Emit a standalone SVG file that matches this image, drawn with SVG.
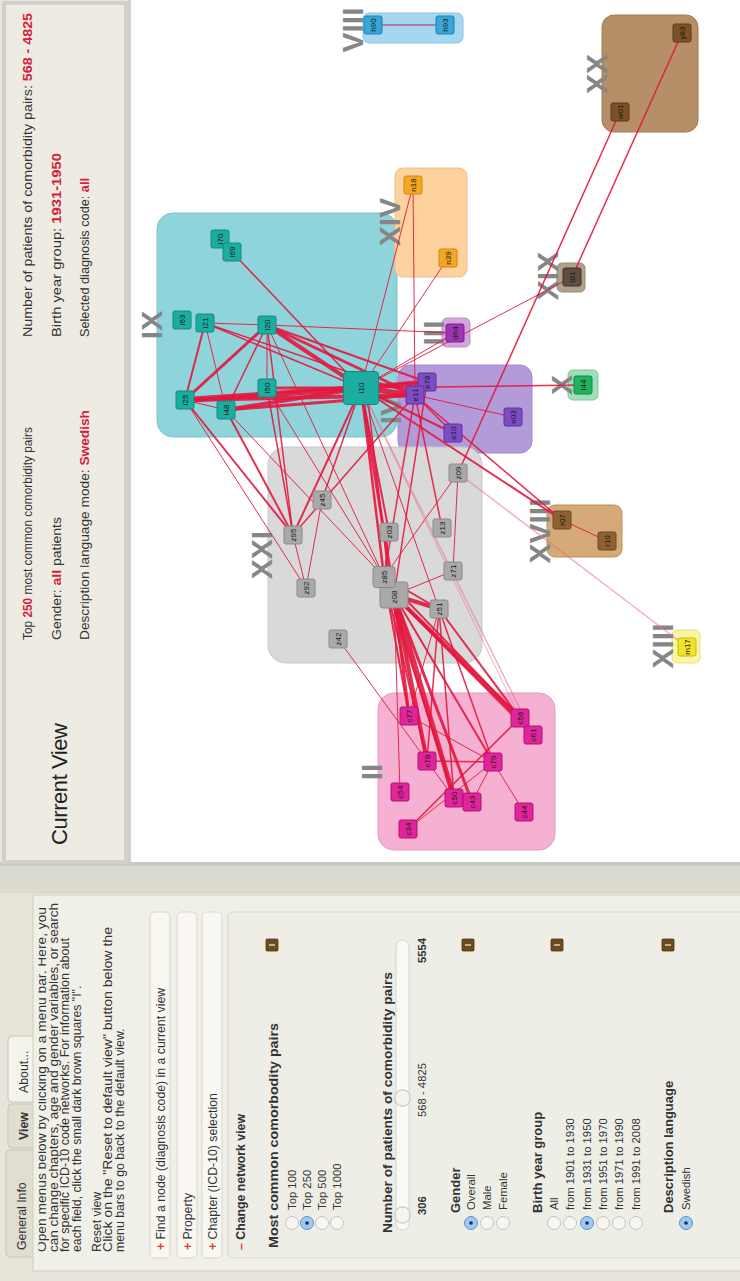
<svg xmlns="http://www.w3.org/2000/svg" width="740" height="1281" viewBox="0 0 740 1281">
<defs>
<style>
text{font-family:"Liberation Sans",Arial,sans-serif}
.hd{font-size:12.5px;fill:#333}
.r{fill:#d4213d;font-weight:bold}
.pt{font-size:12.3px;fill:#333}
.rl{font-size:11.3px;fill:#333}
.hb{font-size:13px;fill:#333;font-weight:bold}
.b{font-weight:bold}
.pl{fill:#e0402a;font-weight:bold}
.bar{fill:#f8f7f1;stroke:#d9d7cb;stroke-width:1}
.rb{fill:#f6f6f3;stroke:#c4c4bc;stroke-width:1}
.rs{fill:#9ccaf2;stroke:#5f92c4;stroke-width:1}
.dot{fill:#1c2b4a}
.ic{fill:#6e4b1f;stroke:#4e3312;stroke-width:.8}
.icl{fill:#e9dcc0}
.rn{font-size:30px;font-weight:bold;fill:#868686;text-anchor:middle;dominant-baseline:central}
.nl{font-size:8px;fill:#1a1a1a;text-anchor:middle;dominant-baseline:central}
.ed line{stroke:#e3173e;stroke-linecap:round;stroke-opacity:.9}
.ed line.f{stroke:#e7708c;stroke-opacity:.55}
.nd rect{stroke-width:1}
.c9{fill:#1aada0;stroke:#0f8c80}
.c14{fill:#f5a623;stroke:#d08810}
.c8{fill:#3aa6d8;stroke:#2080b0}
.c20{fill:#7b5326;stroke:#5a3a18}
.c19{fill:#5e4e44;stroke:#403028}
.c3{fill:#9c36b4;stroke:#7a2090}
.c4{fill:#7e4cc4;stroke:#5e30a0}
.c10{fill:#1fb35e;stroke:#108a44}
.c18{fill:#8c6232;stroke:#6a4820}
.c13{fill:#f2e22a;stroke:#c8b810}
.c21{fill:#a9a9a9;stroke:#8a8a8a}
.c2{fill:#e0259b;stroke:#b01078}
</style>
<clipPath id="cc"><rect x="10" y="38.5" width="376" height="700"/></clipPath>
</defs>

<rect x="0" y="0" width="740" height="1281" fill="#e8e6db"/>

<!-- network canvas -->
<rect x="128" y="0" width="612" height="862" fill="#ffffff"/>
<line x1="129.5" y1="0" x2="129.5" y2="862" stroke="#cfcfcf" stroke-width="3"/>
<rect x="0" y="862" width="740" height="4" fill="#c9c9c6"/>
<rect x="0" y="866" width="740" height="27" fill="#dcdbd0"/>
<line x1="0" y1="893" x2="740" y2="893" stroke="#cfcdc0"/>

<g transform="translate(0,1281) rotate(-90)">
  <!-- header -->
  <g id="header">
    <rect x="419" y="4" width="859" height="122" fill="#edebe2" stroke="#d0d0cd" stroke-width="4"/>
    <text x="436" y="67" font-size="22" fill="#222" textLength="122">Current View</text>
    <text class="hd" x="641" y="32" textLength="213" lengthAdjust="spacingAndGlyphs">Top <tspan class="r">250</tspan> most common comorbidity pairs</text>
    <text class="hd" x="641" y="61" textLength="123" lengthAdjust="spacingAndGlyphs">Gender: <tspan class="r">all</tspan> patients</text>
    <text class="hd" x="641" y="89" textLength="230" lengthAdjust="spacingAndGlyphs">Description language mode: <tspan class="r">Swedish</tspan></text>
    <text class="hd" x="944" y="32" textLength="324" lengthAdjust="spacingAndGlyphs">Number of patients of comorbidity pairs: <tspan class="r">568 - 4825</tspan></text>
    <text class="hd" x="944" y="61" textLength="184" lengthAdjust="spacingAndGlyphs">Birth year group: <tspan class="r">1931-1950</tspan></text>
    <text class="hd" x="944" y="89" textLength="159" lengthAdjust="spacingAndGlyphs">Selected diagnosis code: <tspan class="r">all</tspan></text>
  </g>

  <!-- side panel -->
  <g id="panel">
    <rect x="0" y="0" width="388" height="740" fill="#e7e5da"/>
    <rect x="24" y="6" width="107" height="30" rx="4" fill="#e0ded1" stroke="#c8c6b9"/>
    <rect x="133" y="8" width="44" height="28" rx="4" fill="#e0ded1" stroke="#c8c6b9"/>
    <rect x="179" y="8" width="66" height="30" rx="4" fill="#f4f3ec" stroke="#c8c6b9"/>
    <text class="pt" x="31" y="26" font-size="13.5">General Info</text>
    <text class="pt b" x="141" y="28" font-size="12.5">View</text>
    <text class="pt" x="188" y="28" font-size="12.5">About...</text>
    <rect x="10" y="33" width="376" height="720" fill="#f1f0e8" stroke="#cfcdc1"/>
    <g clip-path="url(#cc)">
      <text class="pt" x="29" y="46" textLength="345" lengthAdjust="spacingAndGlyphs">Open menus below by clicking on a menu bar. Here, you</text>
    </g>
    <text class="pt" x="29" y="57.5" textLength="349" lengthAdjust="spacingAndGlyphs">can change chapters, age and gender variables, or search</text>
    <text class="pt" x="29" y="69" textLength="314" lengthAdjust="spacingAndGlyphs">for specific ICD-10 code networks. For information about</text>
    <text class="pt" x="29" y="80.5">each field, click the small dark brown squares "I".</text>
    <text class="pt" x="29" y="100.5">Reset view</text>
    <text class="pt" x="29" y="112" textLength="325" lengthAdjust="spacingAndGlyphs">Click on the "Reset to default view" button below the</text>
    <text class="pt" x="29" y="123.5">menu bars to go back to the default view.</text>

    <rect class="bar" x="23" y="150" width="346" height="20" rx="5"/>
    <text class="pt" x="31" y="164.5"><tspan class="pl">+</tspan> Find a node (diagnosis code) in a current view</text>
    <rect class="bar" x="23" y="177" width="346" height="20" rx="5"/>
    <text class="pt" x="31" y="191.5"><tspan class="pl">+</tspan> Property</text>
    <rect class="bar" x="23" y="202" width="346" height="20" rx="5"/>
    <text class="pt" x="31" y="216.5"><tspan class="pl">+</tspan> Chapter (ICD-10) selection</text>
    <rect x="23" y="228" width="346" height="520" rx="5" fill="#efeee6" stroke="#d9d7cb"/>
    <text class="pt b" x="31" y="245"><tspan class="pl">–</tspan> Change network view</text>

    <text class="hb" x="33" y="278" textLength="225" lengthAdjust="spacingAndGlyphs">Most common comorbodity pairs</text>
    <rect class="ic" x="330" y="266" width="12" height="12" rx="1"/><rect class="icl" x="335.3" y="269" width="1.4" height="6"/>
    <circle class="rb" cx="58" cy="292" r="6.5"/><text class="rl" x="71" y="296">Top 100</text>
    <circle class="rs" cx="58" cy="307" r="6.5"/><circle class="dot" cx="58" cy="307" r="1.8"/><text class="rl" x="71" y="311">Top 250</text>
    <circle class="rb" cx="58" cy="322" r="6.5"/><text class="rl" x="71" y="326">Top 500</text>
    <circle class="rb" cx="58" cy="337" r="6.5"/><text class="rl" x="71" y="341">Top 1000</text>

    <text class="hb" x="48" y="392" textLength="261" lengthAdjust="spacingAndGlyphs">Number of patients of comorbidity pairs</text>
    <rect x="51" y="396" width="290" height="13" rx="6.5" fill="#f9f9f5" stroke="#d6d6ce"/>
    <rect x="58" y="395" width="16" height="15" rx="7" fill="#f4f4f0" stroke="#bdbdb5"/>
    <rect x="175" y="395" width="16" height="15" rx="7" fill="#f4f4f0" stroke="#bdbdb5"/>
    <text class="rl b" x="66" y="426">306</text>
    <text class="rl" x="191" y="426" text-anchor="middle">568 - 4825</text>
    <text class="rl b" x="318" y="426">5554</text>

    <text class="hb" x="68" y="460">Gender</text>
    <rect class="ic" x="330" y="462" width="12" height="12" rx="1"/><rect class="icl" x="335.3" y="465" width="1.4" height="6"/>
    <circle class="rs" cx="58" cy="471" r="6.5"/><circle class="dot" cx="58" cy="471" r="1.8"/><text class="rl" x="71" y="475">Overall</text>
    <circle class="rb" cx="58" cy="487" r="6.5"/><text class="rl" x="71" y="491">Male</text>
    <circle class="rb" cx="58" cy="503" r="6.5"/><text class="rl" x="71" y="507">Female</text>

    <text class="hb" x="68" y="542">Birth year group</text>
    <rect class="ic" x="330" y="551" width="12" height="12" rx="1"/><rect class="icl" x="335.3" y="554" width="1.4" height="6"/>
    <circle class="rb" cx="58" cy="554" r="6.5"/><text class="rl" x="71" y="558">All</text>
    <circle class="rb" cx="58" cy="570" r="6.5"/><text class="rl" x="71" y="574">from 1901 to 1930</text>
    <circle class="rs" cx="58" cy="587" r="6.5"/><circle class="dot" cx="58" cy="587" r="1.8"/><text class="rl" x="71" y="591">from 1931 to 1950</text>
    <circle class="rb" cx="58" cy="603" r="6.5"/><text class="rl" x="71" y="607">from 1951 to 1970</text>
    <circle class="rb" cx="58" cy="619" r="6.5"/><text class="rl" x="71" y="623">from 1971 to 1990</text>
    <circle class="rb" cx="58" cy="636" r="6.5"/><text class="rl" x="71" y="640">from 1991 to 2008</text>

    <text class="hb" x="68" y="673">Description language</text>
    <rect class="ic" x="330" y="662" width="12" height="12" rx="1"/><rect class="icl" x="335.3" y="665" width="1.4" height="6"/>
    <circle class="rs" cx="58" cy="686" r="6.5"/><circle class="dot" cx="58" cy="686" r="1.8"/><text class="rl" x="71" y="690">Swedish</text>
  </g>
</g>

<!-- cluster boxes -->
<g id="clusters">
  <g id="ch-IX"><rect x="157" y="213" width="240" height="224" rx="16" fill="#8fd4da" stroke="#7cc3c9"/><text class="rn" x="151" y="325" transform="rotate(-90 151 325)">IX</text></g>
  <g id="ch-XIV"><rect x="395" y="168" width="72" height="109" rx="8" fill="#fdd29e" stroke="#f0c080"/><text class="rn" x="389" y="222" transform="rotate(-90 389 222)">XIV</text></g>
  <g id="ch-VIII"><rect x="363" y="13" width="100" height="30" rx="6" fill="#a6d7f0" stroke="#8cc4e0"/><text class="rn" x="352" y="30" transform="rotate(-90 352 30)">VIII</text></g>
  <g id="ch-XX"><rect x="602" y="15" width="96" height="117" rx="12" fill="#b68e68" stroke="#a07a58"/><text class="rn" x="596" y="74" transform="rotate(-90 596 74)">XX</text></g>
  <g id="ch-XIX"><rect x="557" y="263" width="28" height="29" rx="5" fill="#b0a08e" stroke="#9a8a7a"/><text class="rn" x="547" y="276" transform="rotate(-90 547 276)">XIX</text></g>
  <g id="ch-III"><rect x="442" y="318" width="28" height="29" rx="5" fill="#d4a4dc" stroke="#c090c8"/><text class="rn" x="433" y="333" transform="rotate(-90 433 333)">III</text></g>
  <g id="ch-IV"><rect x="398" y="365" width="134" height="88" rx="12" fill="#b39ad8" stroke="#a088c8"/><text class="rn" x="390" y="410" transform="rotate(-90 390 410)">IV</text></g>
  <g id="ch-X"><rect x="568" y="370" width="30" height="30" rx="5" fill="#9fdfb8" stroke="#80c89c"/><text class="rn" x="561" y="385" transform="rotate(-90 561 385)">X</text></g>
  <g id="ch-XVIII"><rect x="547" y="505" width="75" height="52" rx="8" fill="#d5a978" stroke="#c09060"/><text class="rn" x="539" y="531" transform="rotate(-90 539 531)">XVIII</text></g>
  <g id="ch-XIII"><rect x="672" y="630" width="28" height="33" rx="5" fill="#faf5a2" stroke="#e8e080"/><text class="rn" x="662" y="646" transform="rotate(-90 662 646)">XIII</text></g>
  <g id="ch-XXI"><rect x="268" y="447" width="214" height="216" rx="18" fill="#d9d9d9" stroke="#c8c8c8"/><text class="rn" x="261" y="555" transform="rotate(-90 261 555)">XXI</text></g>
  <g id="ch-II"><rect x="378" y="693" width="177" height="157" rx="16" fill="#f5b0d2" stroke="#e898c0"/><text class="rn" x="371" y="772" transform="rotate(-90 371 772)">II</text></g>
</g>

<!-- connectors -->
<g id="edges" class="ed">
  <line x1="232" y1="252" x2="361" y2="388" stroke-width="1.5"/>
  <line x1="205" y1="323" x2="267" y2="325" stroke-width="1"/>
  <line x1="205" y1="323" x2="361" y2="388" stroke-width="1.5"/>
  <line x1="205" y1="323" x2="415" y2="395" stroke-width="1.5"/>
  <line x1="205" y1="323" x2="185" y2="400" stroke-width="2"/>
  <line x1="205" y1="323" x2="226" y2="410" stroke-width="1"/>
  <line x1="267" y1="325" x2="361" y2="388" stroke-width="4"/>
  <line x1="267" y1="325" x2="415" y2="395" stroke-width="3"/>
  <line x1="267" y1="325" x2="427" y2="382" stroke-width="2"/>
  <line x1="267" y1="325" x2="455" y2="333" stroke-width="1"/>
  <line x1="267" y1="325" x2="185" y2="400" stroke-width="3"/>
  <line x1="267" y1="325" x2="226" y2="410" stroke-width="1.5"/>
  <line x1="267" y1="325" x2="267" y2="388" stroke-width="1"/>
  <line x1="267" y1="325" x2="293" y2="535" stroke-width="1.5"/>
  <line x1="267" y1="325" x2="384" y2="577" stroke-width="1"/>
  <line x1="185" y1="400" x2="361" y2="388" stroke-width="6"/>
  <line x1="185" y1="400" x2="415" y2="395" stroke-width="4"/>
  <line x1="185" y1="400" x2="427" y2="382" stroke-width="2"/>
  <line x1="185" y1="400" x2="226" y2="410" stroke-width="1"/>
  <line x1="185" y1="400" x2="293" y2="535" stroke-width="2"/>
  <line x1="185" y1="400" x2="306" y2="588" stroke-width="1"/>
  <line x1="226" y1="410" x2="361" y2="388" stroke-width="4"/>
  <line x1="226" y1="410" x2="415" y2="395" stroke-width="3"/>
  <line x1="226" y1="410" x2="293" y2="535" stroke-width="2"/>
  <line x1="226" y1="410" x2="384" y2="577" stroke-width="1"/>
  <line x1="267" y1="388" x2="361" y2="388" stroke-width="3"/>
  <line x1="267" y1="388" x2="293" y2="535" stroke-width="1.5"/>
  <line x1="267" y1="388" x2="384" y2="577" stroke-width="1"/>
  <line x1="361" y1="388" x2="427" y2="382" stroke-width="5"/>
  <line x1="361" y1="388" x2="415" y2="395" stroke-width="5"/>
  <line x1="361" y1="388" x2="293" y2="535" stroke-width="2"/>
  <line x1="361" y1="388" x2="322" y2="500" stroke-width="1.5"/>
  <line x1="361" y1="388" x2="389" y2="532" stroke-width="2"/>
  <line x1="361" y1="388" x2="384" y2="577" stroke-width="2.5"/>
  <line x1="361" y1="388" x2="394" y2="595" stroke-width="3"/>
  <line x1="367" y1="392" x2="390" y2="590" stroke-width="1.5"/>
  <line x1="427" y1="382" x2="394" y2="595" stroke-width="1.5"/>
  <line x1="415" y1="395" x2="384" y2="577" stroke-width="1.5"/>
  <line x1="361" y1="388" x2="439" y2="609" stroke-width="1"/>
  <line x1="361" y1="388" x2="413" y2="185" stroke-width="1"/>
  <line x1="413" y1="185" x2="415" y2="395" stroke-width="1"/>
  <line x1="448" y1="258" x2="361" y2="388" stroke-width="1"/>
  <line x1="455" y1="333" x2="361" y2="388" stroke-width="1"/>
  <line x1="572" y1="277" x2="361" y2="388" stroke-width="1"/>
  <line x1="682" y1="33" x2="572" y2="277" stroke-width="1.5"/>
  <line x1="620" y1="112" x2="458" y2="473" stroke-width="1.5"/>
  <line x1="361" y1="388" x2="583" y2="385" stroke-width="1.5"/>
  <line x1="415" y1="395" x2="513" y2="417" stroke-width="1"/>
  <line x1="415" y1="395" x2="453" y2="433" stroke-width="1.5"/>
  <line x1="361" y1="388" x2="453" y2="433" stroke-width="2"/>
  <line x1="415" y1="395" x2="442" y2="528" stroke-width="1.5"/>
  <line x1="415" y1="395" x2="293" y2="535" stroke-width="1.5"/>
  <line x1="361" y1="388" x2="562" y2="520" stroke-width="2"/>
  <line x1="415" y1="395" x2="562" y2="520" stroke-width="1.5"/>
  <line x1="562" y1="520" x2="607" y2="541" stroke-width="1"/>
  <line class="f" x1="458" y1="473" x2="687" y2="647" stroke-width="1.5"/>
  <line x1="458" y1="473" x2="453" y2="571" stroke-width="1"/>
  <line x1="458" y1="473" x2="384" y2="577" stroke-width="1"/>
  <line x1="453" y1="571" x2="394" y2="595" stroke-width="1"/>
  <line x1="322" y1="500" x2="306" y2="588" stroke-width="1"/>
  <line x1="293" y1="535" x2="306" y2="588" stroke-width="1"/>
  <line x1="338" y1="639" x2="427" y2="761" stroke-width="1"/>
  <line class="f" x1="361" y1="388" x2="533" y2="735" stroke-width="1.5"/>
  <line class="f" x1="361" y1="388" x2="520" y2="718" stroke-width="1"/>
  <line x1="389" y1="532" x2="384" y2="577" stroke-width="1"/>
  <line x1="394" y1="595" x2="439" y2="609" stroke-width="4"/>
  <line x1="384" y1="577" x2="439" y2="609" stroke-width="2"/>
  <line x1="394" y1="595" x2="409" y2="716" stroke-width="3"/>
  <line x1="394" y1="595" x2="427" y2="761" stroke-width="4"/>
  <line x1="394" y1="595" x2="454" y2="798" stroke-width="5"/>
  <line x1="394" y1="595" x2="472" y2="802" stroke-width="3"/>
  <line x1="394" y1="595" x2="493" y2="762" stroke-width="2"/>
  <line x1="394" y1="595" x2="520" y2="718" stroke-width="4"/>
  <line x1="394" y1="595" x2="533" y2="735" stroke-width="3"/>
  <line x1="384" y1="577" x2="454" y2="798" stroke-width="2"/>
  <line x1="384" y1="577" x2="427" y2="761" stroke-width="2"/>
  <line x1="384" y1="577" x2="409" y2="716" stroke-width="2"/>
  <line x1="384" y1="577" x2="520" y2="718" stroke-width="2"/>
  <line x1="439" y1="609" x2="427" y2="761" stroke-width="1.5"/>
  <line x1="439" y1="609" x2="493" y2="762" stroke-width="1.5"/>
  <line x1="439" y1="609" x2="454" y2="798" stroke-width="1.5"/>
  <line x1="439" y1="609" x2="409" y2="716" stroke-width="1"/>
  <line x1="439" y1="609" x2="520" y2="718" stroke-width="2"/>
  <line x1="400" y1="792" x2="394" y2="595" stroke-width="1"/>
  <line x1="427" y1="761" x2="493" y2="762" stroke-width="1.5"/>
  <line x1="408" y1="829" x2="520" y2="718" stroke-width="1.5"/>
  <line x1="493" y1="762" x2="524" y2="812" stroke-width="1"/>
  <line x1="409" y1="716" x2="493" y2="762" stroke-width="1"/>
  <line x1="454" y1="798" x2="427" y2="761" stroke-width="1"/>
  <line x1="472" y1="802" x2="493" y2="762" stroke-width="1"/>
  <line x1="408" y1="829" x2="493" y2="762" stroke-width="1"/>
  <line x1="373" y1="25" x2="445" y2="25" stroke-width="1.5" style="stroke:#b0508a"/>
</g>

<!-- nodes -->
<g id="nodes" class="nd">
  <g id="n-i70"><rect class="c9" x="211" y="230" width="18" height="18" rx="2"/><text class="nl" x="220" y="239" transform="rotate(-90 220 239)">i70</text></g>
  <g id="n-i69"><rect class="c9" x="223" y="243" width="18" height="18" rx="2"/><text class="nl" x="232" y="252" transform="rotate(-90 232 252)">i69</text></g>
  <g id="n-i63"><rect class="c9" x="173" y="311" width="18" height="18" rx="2"/><text class="nl" x="182" y="320" transform="rotate(-90 182 320)">i63</text></g>
  <g id="n-i21"><rect class="c9" x="196" y="314" width="18" height="18" rx="2"/><text class="nl" x="205" y="323" transform="rotate(-90 205 323)">i21</text></g>
  <g id="n-i20"><rect class="c9" x="258" y="316" width="18" height="18" rx="2"/><text class="nl" x="267" y="325" transform="rotate(-90 267 325)">i20</text></g>
  <g id="n-i50"><rect class="c9" x="258" y="379" width="18" height="18" rx="2"/><text class="nl" x="267" y="388" transform="rotate(-90 267 388)">i50</text></g>
  <g id="n-i25"><rect class="c9" x="176" y="391" width="18" height="18" rx="2"/><text class="nl" x="185" y="400" transform="rotate(-90 185 400)">i25</text></g>
  <g id="n-i48"><rect class="c9" x="217" y="401" width="18" height="18" rx="2"/><text class="nl" x="226" y="410" transform="rotate(-90 226 410)">i48</text></g>
  <g id="n-i10"><rect class="c9" x="343.5" y="371.5" width="35" height="33" rx="3"/><text class="nl" x="361" y="388" transform="rotate(-90 361 388)" font-size="9">i10</text></g>
  <g id="n-n18"><rect class="c14" x="404" y="176" width="18" height="18" rx="2"/><text class="nl" x="413" y="185" transform="rotate(-90 413 185)">n18</text></g>
  <g id="n-n39"><rect class="c14" x="439" y="249" width="18" height="18" rx="2"/><text class="nl" x="448" y="258" transform="rotate(-90 448 258)">n39</text></g>
  <g id="n-h90"><rect class="c8" x="364" y="16" width="18" height="18" rx="2"/><text class="nl" x="373" y="25" transform="rotate(-90 373 25)">h90</text></g>
  <g id="n-h93"><rect class="c8" x="436" y="16" width="18" height="18" rx="2"/><text class="nl" x="445" y="25" transform="rotate(-90 445 25)">h93</text></g>
  <g id="n-y83"><rect class="c20" x="673" y="24" width="18" height="18" rx="2"/><text class="nl" x="682" y="33" transform="rotate(-90 682 33)">y83</text></g>
  <g id="n-w01"><rect class="c20" x="611" y="103" width="18" height="18" rx="2"/><text class="nl" x="620" y="112" transform="rotate(-90 620 112)">w01</text></g>
  <g id="n-t81"><rect class="c19" x="563" y="268" width="18" height="18" rx="2"/><text class="nl" x="572" y="277" transform="rotate(-90 572 277)">t81</text></g>
  <g id="n-d64"><rect class="c3" x="446" y="324" width="18" height="18" rx="2"/><text class="nl" x="455" y="333" transform="rotate(-90 455 333)">d64</text></g>
  <g id="n-e78"><rect class="c4" x="418" y="373" width="18" height="18" rx="2"/><text class="nl" x="427" y="382" transform="rotate(-90 427 382)">e78</text></g>
  <g id="n-e11"><rect class="c4" x="406" y="386" width="18" height="18" rx="2"/><text class="nl" x="415" y="395" transform="rotate(-90 415 395)">e11</text></g>
  <g id="n-e03"><rect class="c4" x="504" y="408" width="18" height="18" rx="2"/><text class="nl" x="513" y="417" transform="rotate(-90 513 417)">e03</text></g>
  <g id="n-e10"><rect class="c4" x="444" y="424" width="18" height="18" rx="2"/><text class="nl" x="453" y="433" transform="rotate(-90 453 433)">e10</text></g>
  <g id="n-i44"><rect class="c10" x="574" y="376" width="18" height="18" rx="2"/><text class="nl" x="583" y="385" transform="rotate(-90 583 385)">i44</text></g>
  <g id="n-r07"><rect class="c18" x="553" y="511" width="18" height="18" rx="2"/><text class="nl" x="562" y="520" transform="rotate(-90 562 520)">r07</text></g>
  <g id="n-r10"><rect class="c18" x="598" y="532" width="18" height="18" rx="2"/><text class="nl" x="607" y="541" transform="rotate(-90 607 541)">r10</text></g>
  <g id="n-m17"><rect class="c13" x="678" y="638" width="18" height="18" rx="2"/><text class="nl" x="687" y="647" transform="rotate(-90 687 647)">m17</text></g>
  <g id="n-z09"><rect class="c21" x="449" y="464" width="18" height="18" rx="2"/><text class="nl" x="458" y="473" transform="rotate(-90 458 473)">z09</text></g>
  <g id="n-z45"><rect class="c21" x="313" y="491" width="18" height="18" rx="2"/><text class="nl" x="322" y="500" transform="rotate(-90 322 500)">z45</text></g>
  <g id="n-z95"><rect class="c21" x="284" y="526" width="18" height="18" rx="2"/><text class="nl" x="293" y="535" transform="rotate(-90 293 535)">z95</text></g>
  <g id="n-z03"><rect class="c21" x="380" y="523" width="18" height="18" rx="2"/><text class="nl" x="389" y="532" transform="rotate(-90 389 532)">z03</text></g>
  <g id="n-z13"><rect class="c21" x="433" y="519" width="18" height="18" rx="2"/><text class="nl" x="442" y="528" transform="rotate(-90 442 528)">z13</text></g>
  <g id="n-z71"><rect class="c21" x="444" y="562" width="18" height="18" rx="2"/><text class="nl" x="453" y="571" transform="rotate(-90 453 571)">z71</text></g>
  <g id="n-z08"><rect class="c21" x="380" y="582" width="28" height="26" rx="3"/><text class="nl" x="394" y="597" transform="rotate(-90 394 597)">z08</text></g>
  <g id="n-z85"><rect class="c21" x="373" y="566.5" width="22" height="21" rx="3"/><text class="nl" x="384" y="577" transform="rotate(-90 384 577)">z85</text></g>
  <g id="n-z92"><rect class="c21" x="297" y="579" width="18" height="18" rx="2"/><text class="nl" x="306" y="588" transform="rotate(-90 306 588)">z92</text></g>
  <g id="n-z51"><rect class="c21" x="430" y="600" width="18" height="18" rx="2"/><text class="nl" x="439" y="609" transform="rotate(-90 439 609)">z51</text></g>
  <g id="n-z42"><rect class="c21" x="329" y="630" width="18" height="18" rx="2"/><text class="nl" x="338" y="639" transform="rotate(-90 338 639)">z42</text></g>
  <g id="n-c77"><rect class="c2" x="400" y="707" width="18" height="18" rx="2"/><text class="nl" x="409" y="716" transform="rotate(-90 409 716)">c77</text></g>
  <g id="n-c56"><rect class="c2" x="511" y="709" width="18" height="18" rx="2"/><text class="nl" x="520" y="718" transform="rotate(-90 520 718)">c56</text></g>
  <g id="n-c61"><rect class="c2" x="524" y="726" width="18" height="18" rx="2"/><text class="nl" x="533" y="735" transform="rotate(-90 533 735)">c61</text></g>
  <g id="n-c78"><rect class="c2" x="418" y="752" width="18" height="18" rx="2"/><text class="nl" x="427" y="761" transform="rotate(-90 427 761)">c78</text></g>
  <g id="n-c79"><rect class="c2" x="484" y="753" width="18" height="18" rx="2"/><text class="nl" x="493" y="762" transform="rotate(-90 493 762)">c79</text></g>
  <g id="n-c54"><rect class="c2" x="391" y="783" width="18" height="18" rx="2"/><text class="nl" x="400" y="792" transform="rotate(-90 400 792)">c54</text></g>
  <g id="n-c50"><rect class="c2" x="445" y="789" width="18" height="18" rx="2"/><text class="nl" x="454" y="798" transform="rotate(-90 454 798)">c50</text></g>
  <g id="n-c43"><rect class="c2" x="463" y="793" width="18" height="18" rx="2"/><text class="nl" x="472" y="802" transform="rotate(-90 472 802)">c43</text></g>
  <g id="n-c44"><rect class="c2" x="515" y="803" width="18" height="18" rx="2"/><text class="nl" x="524" y="812" transform="rotate(-90 524 812)">c44</text></g>
  <g id="n-c34"><rect class="c2" x="399" y="820" width="18" height="18" rx="2"/><text class="nl" x="408" y="829" transform="rotate(-90 408 829)">c34</text></g>
</g>
</svg>
